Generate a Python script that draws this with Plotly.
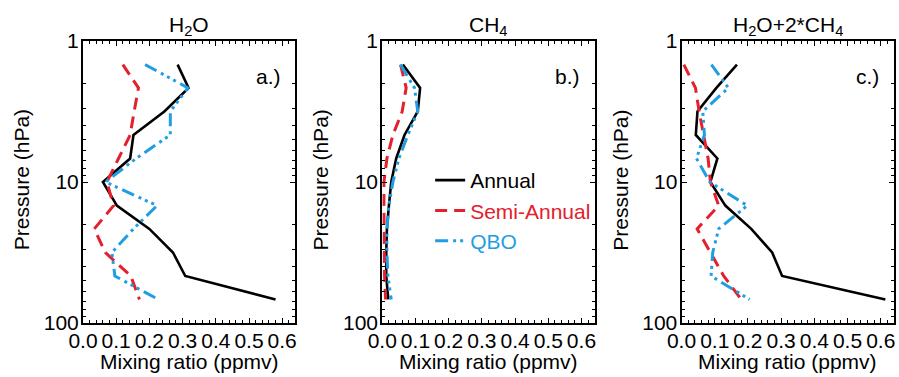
import plotly.graph_objects as go

# ---- data -------------------------------------------------------------
pressure = [1.47, 2.15, 3.16, 4.64, 6.81, 10.0, 14.7, 21.5, 31.6, 46.4, 68.1]

h2o_annual = [0.285, 0.318, 0.245, 0.152, 0.142, 0.060, 0.102, 0.200, 0.271, 0.308, 0.580]
h2o_semi = [0.120, 0.167, 0.154, 0.142, 0.107, 0.072, 0.092, 0.034, 0.067, 0.144, 0.170]
h2o_qbo = [0.187, 0.316, 0.263, 0.263, 0.160, 0.068, 0.223, 0.152, 0.087, 0.096, 0.227]

ch4_annual = [0.062, 0.114, 0.107, 0.067, 0.042, 0.027, 0.020, 0.014, 0.012, 0.012, 0.018]
ch4_semi = [0.055, 0.072, 0.060, 0.032, 0.014, 0.005, 0.005, 0.005, 0.007, 0.007, 0.010]
ch4_qbo = [0.055, 0.097, 0.107, 0.077, 0.050, 0.032, 0.020, 0.014, 0.014, 0.017, 0.027]

tot_annual = [0.167, 0.105, 0.048, 0.043, 0.108, 0.087, 0.132, 0.210, 0.273, 0.303, 0.614]
tot_semi = [0.007, 0.042, 0.053, 0.067, 0.080, 0.087, 0.112, 0.047, 0.087, 0.127, 0.180]
tot_qbo = [0.090, 0.141, 0.064, 0.069, 0.045, 0.085, 0.198, 0.112, 0.094, 0.089, 0.205]

panel_titles = ["H<sub>2</sub>O", "CH<sub>4</sub>", "H<sub>2</sub>O+2*CH<sub>4</sub>"]
panel_labels = ["a.)", "b.)", "c.)"]
series_names = ["Annual", "Semi-Annual", "QBO"]
x_title = "Mixing ratio (ppmv)"
y_title = "Pressure (hPa)"
x_ticks = [0.0, 0.1, 0.2, 0.3, 0.4, 0.5, 0.6]
y_ticks = [1, 10, 100]
y_tick_text = ["1", "10", "100"]
y_minor = [2, 3, 4, 5, 6, 7, 8, 9, 20, 30, 40, 50, 60, 70, 80, 90]

panels = [
    [h2o_annual, h2o_semi, h2o_qbo],
    [ch4_annual, ch4_semi, ch4_qbo],
    [tot_annual, tot_semi, tot_qbo],
]

# ---- styles -----------------------------------------------------------
FONT = "Liberation Sans, Arial, Helvetica, sans-serif"
FS = 21
BLACK = "#000000"
RED = "#e3202b"
BLUE = "#1f9ee3"
styles = [
    dict(color=BLACK, width=2.6, dash="solid"),
    dict(color=RED, width=3, dash="12px,7px"),
    dict(color=BLUE, width=3, dash="13px,5px,3px,4px,3px,4px,3px,5px"),
]
name_colors = [BLACK, RED, BLUE]

W, H = 899, 377
ML, MR, MT, MB = 83, 3, 41, 54
PW = W - ML - MR
PH = H - MT - MB
PANEL_W = 213
domains = [[0, 213 / PW], [300 / PW, 513 / PW], [600 / PW, 1.0]]


def ydom(px):
    return (MT + PH - px) / PH


fig = go.Figure()

for i, series in enumerate(panels):
    xa = "x" if i == 0 else f"x{i+1}"
    ya = "y" if i == 0 else f"y{i+1}"
    for j, vals in enumerate(series):
        fig.add_trace(go.Scatter(
            x=vals, y=pressure, mode="lines",
            line=styles[j],
            name=f"<span style='color:{name_colors[j]}'>{series_names[j]}</span>",
            showlegend=(i == 0),
            xaxis=xa, yaxis=ya,
        ))

axis_common = dict(
    showline=True, linewidth=2, linecolor="black", mirror="ticks",
    ticks="inside", tickcolor="black", tickwidth=1.2,
    showgrid=False, zeroline=False,
    tickfont=dict(family=FONT, size=FS, color="black"),
)

layout = dict(
    width=W, height=H,
    margin=dict(l=ML, r=MR, t=MT, b=MB),
    paper_bgcolor="white", plot_bgcolor="white",
    font=dict(family=FONT, size=FS, color="black"),
    showlegend=True,
    legend=dict(
        x=(431 - ML) / PW, y=ydom(160),
        xanchor="left", yanchor="top",
        bgcolor="rgba(0,0,0,0)",
        font=dict(family=FONT, size=FS),
    ),
)

annotations = []
for i in range(3):
    xk = "xaxis" if i == 0 else f"xaxis{i+1}"
    yk = "yaxis" if i == 0 else f"yaxis{i+1}"
    anchor_y = "y" if i == 0 else f"y{i+1}"
    anchor_x = "x" if i == 0 else f"x{i+1}"
    layout[xk] = dict(
        axis_common, domain=domains[i], anchor=anchor_y,
        range=[0, 0.64], tickvals=x_ticks, tickformat=".1f",
        ticklen=5, ticklabelstandoff=-2,
        minor=dict(dtick=0.02, ticks="inside", ticklen=3, tickcolor="black", tickwidth=1),
    )
    layout[yk] = dict(
        axis_common, domain=[0, 1], anchor=anchor_x, type="log",
        range=[2, 0], tickvals=y_ticks, ticktext=y_tick_text,
        ticklen=5, ticklabelstandoff=-2,
        minor=dict(tickvals=y_minor, ticks="inside", ticklen=3, tickcolor="black", tickwidth=1),
    )
    xd = f"{anchor_x} domain"
    yd = f"{anchor_y} domain"
    # panel title
    annotations.append(dict(
        text=panel_titles[i], xref=xd, yref=yd, x=0.5, y=ydom(26),
        xanchor="center", yanchor="middle", showarrow=False,
        font=dict(family=FONT, size=FS),
    ))
    # panel letter
    annotations.append(dict(
        text=panel_labels[i], xref=xd, yref=yd, x=(283 - 83) / PANEL_W, y=ydom(77),
        xanchor="right", yanchor="middle", showarrow=False,
        font=dict(family=FONT, size=FS),
    ))
    # x-axis title
    annotations.append(dict(
        text=x_title, xref=xd, yref=yd, x=0.5, y=ydom(361),
        xanchor="center", yanchor="middle", showarrow=False,
        font=dict(family=FONT, size=FS),
    ))
    # y-axis title
    annotations.append(dict(
        text=y_title, xref=xd, yref=yd, x=(21 - 83) / PANEL_W, y=ydom(180),
        xanchor="center", yanchor="middle", showarrow=False, textangle=-90,
        font=dict(family=FONT, size=FS),
    ))

layout["annotations"] = annotations
fig.update_layout(**layout)

fig.write_html("out.html")
